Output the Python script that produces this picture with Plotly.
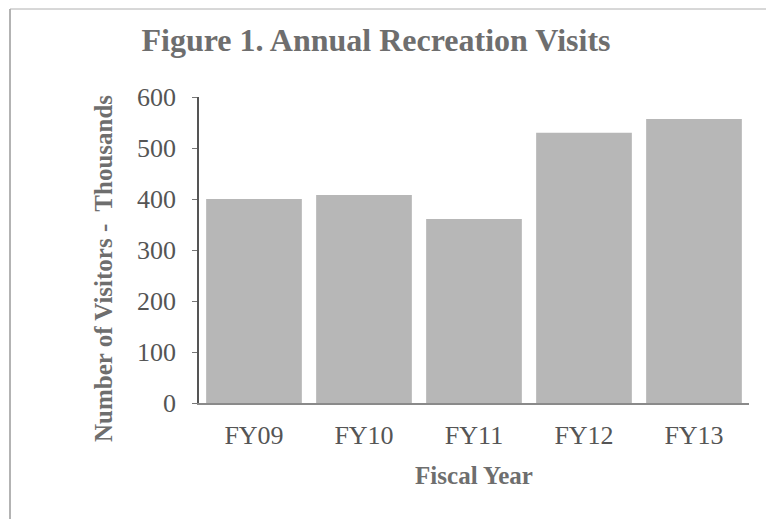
import plotly.graph_objects as go

categories = ["FY09", "FY10", "FY11", "FY12", "FY13"]
visits_thousands = [400, 408, 361, 530, 557]
y_ticks = [0, 100, 200, 300, 400, 500, 600]

W, H = 766, 519
L, R, T, B = 199, 17, 97, 116

title_color = "#6e6e6e"
label_color = "#555555"
font_family = "Liberation Serif, Times New Roman, serif"

fig = go.Figure()
fig.add_trace(go.Bar(
    x=categories,
    y=visits_thousands,
    marker=dict(color="#b7b7b7", line=dict(width=0)),
    hoverinfo="x+y",
))

fig.update_layout(
    width=W, height=H,
    margin=dict(l=L, r=R, t=T, b=B, pad=0),
    paper_bgcolor="white",
    plot_bgcolor="white",
    bargap=0.13,
    showlegend=False,
    font=dict(family=font_family, color=label_color, size=26),
    title=dict(
        text="<b>Figure 1. Annual Recreation Visits</b>",
        x=376 / W, xanchor="center",
        y=1 - 40 / H, yanchor="middle",
        font=dict(family=font_family, size=32, color=title_color),
    ),
    xaxis=dict(
        showline=True, linecolor="#8a8a8a", linewidth=1.5,
        ticks="", showgrid=False, zeroline=False,
        tickfont=dict(size=26, color=label_color),
        ticklabelstandoff=8,
        title=dict(text="<b>Fiscal Year</b>",
                   font=dict(size=25, color=title_color), standoff=18),
    ),
    yaxis=dict(
        range=[0, 600], tickvals=y_ticks,
        showline=True, linecolor="#555555", linewidth=1.5,
        ticks="outside", ticklen=5, tickcolor="#777777", tickwidth=1,
        showgrid=False, zeroline=False,
        tickfont=dict(size=26, color=label_color),
        ticklabelstandoff=11,
    ),
    annotations=[dict(
        text="<b>Number of Visitors -  Thousands</b>",
        textangle=-90, xref="paper", yref="paper",
        x=(103 - L) / (W - L - R), y=1 - (268 - T) / (H - T - B),
        xanchor="center", yanchor="middle", showarrow=False,
        font=dict(size=25, color=title_color, family=font_family),
    )],
    shapes=[
        dict(type="line", xref="paper", yref="paper",
             x0=(10 - L) / (W - L - R), x1=(10 - L) / (W - L - R),
             y0=1 + (T - 9) / (H - T - B), y1=-(B) / (H - T - B),
             line=dict(color="#9a9a9a", width=1.5)),
        dict(type="line", xref="paper", yref="paper",
             x0=(10 - L) / (W - L - R), x1=(W - L) / (W - L - R),
             y0=1 + (T - 9) / (H - T - B), y1=1 + (T - 9) / (H - T - B),
             line=dict(color="#b0b0b0", width=1)),
    ],
)

fig.write_html("out.html")
